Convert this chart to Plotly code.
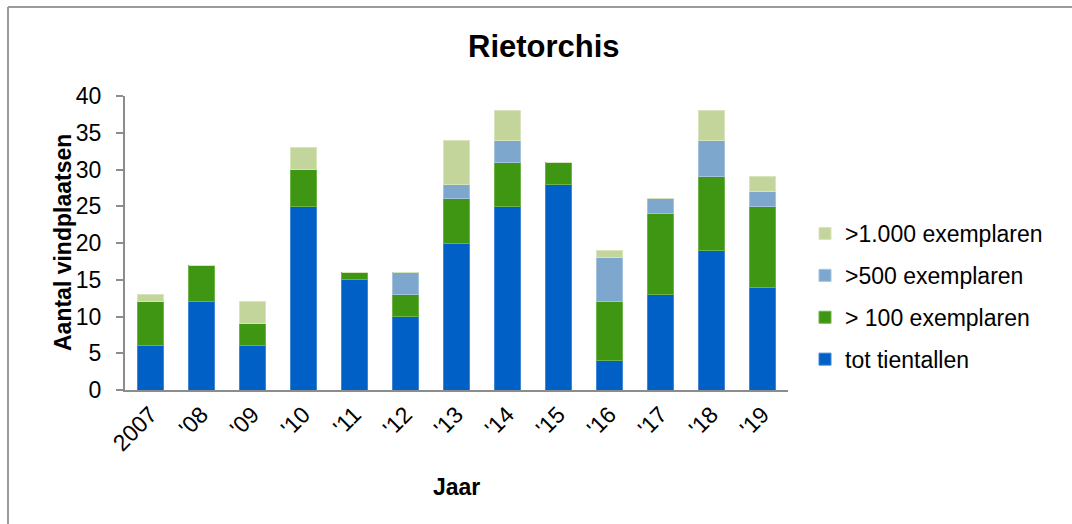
import plotly.graph_objects as go

years = ["2007", "'08", "'09", "'10", "'11", "'12", "'13", "'14", "'15", "'16", "'17", "'18", "'19"]
tot_tientallen = [6, 12, 6, 25, 15, 10, 20, 25, 28, 4, 13, 19, 14]
gt_100 = [6, 5, 3, 5, 1, 3, 6, 6, 3, 8, 11, 10, 11]
gt_500 = [0, 0, 0, 0, 0, 3, 2, 3, 0, 6, 2, 5, 2]
gt_1000 = [1, 0, 3, 3, 0, 0, 6, 4, 0, 1, 0, 4, 2]

series = [
    ("tot tientallen", tot_tientallen, "#0060C6", "#3E86D6"),
    ("> 100 exemplaren", gt_100, "#3E9612", "#6FB24A"),
    (">500 exemplaren", gt_500, "#7DA7CD", "#A4C2DE"),
    (">1.000 exemplaren", gt_1000, "#C3D59A", "#D8E4BC"),
]

FONT = "Liberation Sans, Arial, sans-serif"

fig = go.Figure()
for i, (name, vals, col, lcol) in enumerate(series):
    fig.add_trace(go.Bar(
        x=years, y=vals, name=name, legendgroup=f"g{i}", legendrank=100 - i,
        marker=dict(color=col, line=dict(color=lcol, width=1)),
    ))

W, H = 1072, 524
L, R, T, B = 125, 284, 96, 134
pw, ph = W - L - R, H - T - B

def px(x):
    return (x - L) / pw

def py(y):
    return (H - B - y) / ph

fig.update_layout(
    width=W, height=H,
    margin=dict(l=L, r=R, t=T, b=B),
    barmode="stack", bargap=0.49,
    plot_bgcolor="white", paper_bgcolor="white",
    font=dict(family=FONT, size=23, color="#000000"),
    showlegend=True,
    legend=dict(
        x=px(805), y=py(212), xanchor="left", yanchor="top",
        traceorder="grouped", tracegroupgap=9,
        font=dict(size=23, family=FONT), itemwidth=30,
        bgcolor="rgba(0,0,0,0)",
    ),
    xaxis=dict(
        showgrid=False, showline=True, linecolor="#8C8C8C", linewidth=2,
        ticks="", tickangle=-45, tickfont=dict(size=23, family=FONT),
    ),
    yaxis=dict(
        range=[0, 40], dtick=5, showgrid=False, zeroline=False,
        showline=True, linecolor="#8C8C8C", linewidth=2,
        ticks="outside", ticklen=7, tickwidth=2, tickcolor="#8C8C8C",
        tickfont=dict(size=23, family=FONT), ticklabelstandoff=10,
    ),
    annotations=[
        dict(text="<b>Rietorchis</b>", xref="paper", yref="paper",
             x=px(544), y=py(46), xanchor="center", yanchor="middle",
             showarrow=False, font=dict(size=31, family=FONT)),
        dict(text="<b>Aantal vindplaatsen</b>", xref="paper", yref="paper",
             x=px(63), y=py(243), xanchor="center", yanchor="middle",
             textangle=-90, showarrow=False, font=dict(size=23, family=FONT)),
        dict(text="<b>Jaar</b>", xref="paper", yref="paper",
             x=px(456), y=py(487), xanchor="center", yanchor="middle",
             showarrow=False, font=dict(size=23, family=FONT)),
    ],
    shapes=[
        dict(type="line", xref="paper", yref="paper",
             x0=px(8), x1=px(1080), y0=py(7), y1=py(7),
             line=dict(color="#9A9A9A", width=2)),
        dict(type="line", xref="paper", yref="paper",
             x0=px(8), x1=px(8), y0=py(7), y1=py(530),
             line=dict(color="#9A9A9A", width=2)),
    ],
)

fig.write_html("out.html")
